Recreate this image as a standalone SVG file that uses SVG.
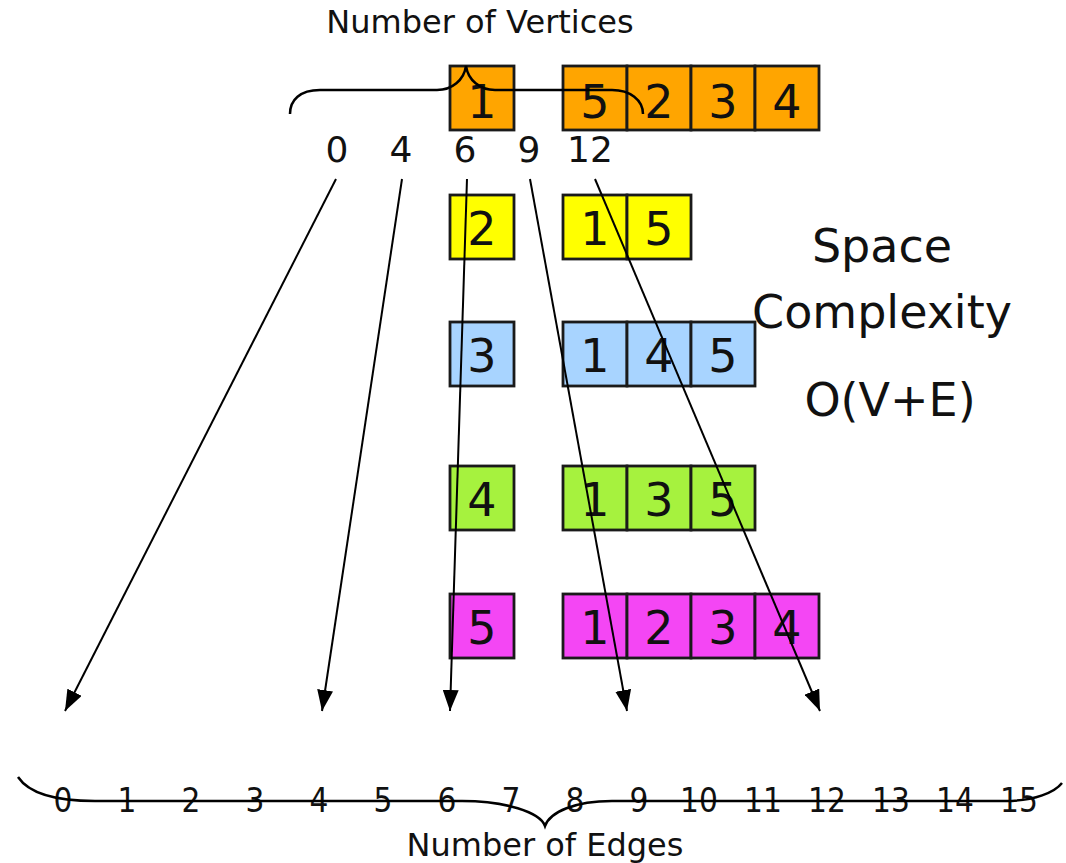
<svg xmlns="http://www.w3.org/2000/svg" width="1066" height="863" viewBox="0 0 1066 863">
<style>
.box{stroke:#1a1a1a;stroke-width:2.8}
.o{fill:#FFA500}.y{fill:#FFFF00}.b{fill:#A8D4FF}.g{fill:#A6F23E}.m{fill:#F446F4}
.bt{font-family:"DejaVu Sans",Verdana,sans-serif;font-size:46px;fill:#111;text-anchor:middle}
.idx{font-family:"DejaVu Sans",Verdana,sans-serif;font-size:36px;fill:#111;text-anchor:middle}
.bot{font-family:"DejaVu Sans Condensed","DejaVu Sans",sans-serif;font-size:33px;fill:#111;text-anchor:middle}
.lbl{font-family:"DejaVu Sans",Verdana,sans-serif;fill:#111;text-anchor:middle}
.big{font-family:"DejaVu Sans",Verdana,sans-serif;font-size:46px;fill:#111;text-anchor:middle}
.ln{stroke:#000;stroke-width:2;fill:none}
.brace{stroke:#000;stroke-width:2.5;fill:none}
</style>
<defs>
<marker id="ah" viewBox="0 0 21 16" refX="21" refY="8" markerWidth="21" markerHeight="16" markerUnits="userSpaceOnUse" orient="auto">
<path d="M0,0 L21,8 L0,16 Z" fill="#000"/>
</marker>
</defs>
<text class="lbl" x="480" y="33" font-size="32">Number of Vertices</text>
<g id="row1">
<rect class="box o" x="450" y="66" width="64" height="64"/>
<text class="bt" x="482" y="118">1</text>
<rect class="box o" x="563" y="66" width="64" height="64"/>
<rect class="box o" x="627" y="66" width="64" height="64"/>
<rect class="box o" x="691" y="66" width="64" height="64"/>
<rect class="box o" x="755" y="66" width="64" height="64"/>
<text class="bt" x="595" y="118">5</text>
<text class="bt" x="659" y="118">2</text>
<text class="bt" x="723" y="118">3</text>
<text class="bt" x="787" y="118">4</text>
</g>
<g id="row2">
<rect class="box y" x="450" y="195" width="64" height="64"/>
<text class="bt" x="482" y="245">2</text>
<rect class="box y" x="563" y="195" width="64" height="64"/>
<rect class="box y" x="627" y="195" width="64" height="64"/>
<text class="bt" x="595" y="245">1</text>
<text class="bt" x="659" y="245">5</text>
</g>
<g id="row3">
<rect class="box b" x="450" y="322" width="64" height="64"/>
<text class="bt" x="482" y="372">3</text>
<rect class="box b" x="563" y="322" width="64" height="64"/>
<rect class="box b" x="627" y="322" width="64" height="64"/>
<rect class="box b" x="691" y="322" width="64" height="64"/>
<text class="bt" x="595" y="372">1</text>
<text class="bt" x="659" y="372">4</text>
<text class="bt" x="723" y="372">5</text>
</g>
<g id="row4">
<rect class="box g" x="450" y="466" width="64" height="64"/>
<text class="bt" x="482" y="516">4</text>
<rect class="box g" x="563" y="466" width="64" height="64"/>
<rect class="box g" x="627" y="466" width="64" height="64"/>
<rect class="box g" x="691" y="466" width="64" height="64"/>
<text class="bt" x="595" y="516">1</text>
<text class="bt" x="659" y="516">3</text>
<text class="bt" x="723" y="516">5</text>
</g>
<g id="row5">
<rect class="box m" x="450" y="594" width="64" height="64"/>
<text class="bt" x="482" y="644">5</text>
<rect class="box m" x="563" y="594" width="64" height="64"/>
<rect class="box m" x="627" y="594" width="64" height="64"/>
<rect class="box m" x="691" y="594" width="64" height="64"/>
<rect class="box m" x="755" y="594" width="64" height="64"/>
<text class="bt" x="595" y="644">1</text>
<text class="bt" x="659" y="644">2</text>
<text class="bt" x="723" y="644">3</text>
<text class="bt" x="787" y="644">4</text>
</g>
<g id="indices">
<text class="idx" x="337" y="162">0</text>
<text class="idx" x="401" y="162">4</text>
<text class="idx" x="465" y="162">6</text>
<text class="idx" x="529" y="162">9</text>
<text class="idx" x="590" y="162">12</text>
</g>
<g id="complexity">
<text class="big" x="882" y="262">Space</text>
<text class="big" x="882" y="328">Complexity</text>
<text class="big" x="890" y="416">O(V+E)</text>
</g>
<g id="connectors">
<path class="brace" d="M290,114 C290,100 300,90 320,90 L437,90 C452,90 464,80 466,66 C468,80 480,90 495,90 L612,90 C630,90 643,100 643,114"/>
<line class="ln" x1="336" y1="179" x2="65" y2="711" marker-end="url(#ah)"/>
<line class="ln" x1="402" y1="179" x2="322" y2="711" marker-end="url(#ah)"/>
<line class="ln" x1="467" y1="179" x2="450" y2="711" marker-end="url(#ah)"/>
<line class="ln" x1="530" y1="179" x2="627" y2="711" marker-end="url(#ah)"/>
<line class="ln" x1="595" y1="179" x2="820" y2="711" marker-end="url(#ah)"/>
</g>
<g id="edges">
<text class="bot" x="63" y="812">0</text>
<text class="bot" x="127" y="812">1</text>
<text class="bot" x="191" y="812">2</text>
<text class="bot" x="255" y="812">3</text>
<text class="bot" x="319" y="812">4</text>
<text class="bot" x="383" y="812">5</text>
<text class="bot" x="447" y="812">6</text>
<text class="bot" x="511" y="812">7</text>
<text class="bot" x="575" y="812">8</text>
<text class="bot" x="639" y="812">9</text>
<text class="bot" x="699" y="812">10</text>
<text class="bot" x="763" y="812">11</text>
<text class="bot" x="827" y="812">12</text>
<text class="bot" x="891" y="812">13</text>
<text class="bot" x="955" y="812">14</text>
<text class="bot" x="1019" y="812">15</text>
<path class="brace" d="M18,777 C30,795 60,801 95,801 L462,801 C505,801 540,812 545,826 C550,812 575,801 612,801 L1005,801 C1035,801 1055,792 1062,783"/>
</g>
<text class="lbl" x="545" y="856" font-size="32">Number of Edges</text>
</svg>
